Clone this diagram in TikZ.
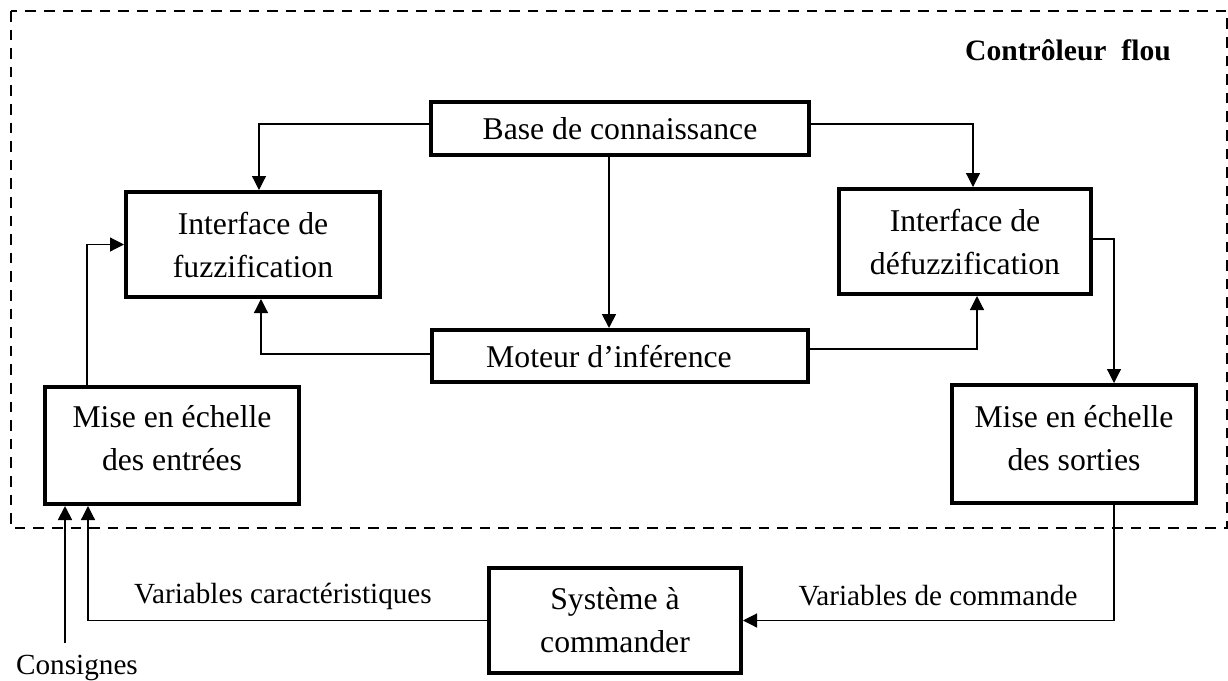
\documentclass[tikz,border=0pt]{standalone}
\usepackage{fontspec}
\setmainfont{Liberation Serif}
\usetikzlibrary{arrows.meta,calc}
\begin{document}
\begin{tikzpicture}[x=0.5pt,y=-0.5pt,
  box/.style={draw,line width=2pt,align=center,inner sep=0pt,font=\fontsize{15.85}{21.5}\selectfont},
  boxtext/.style={align=center,inner sep=0pt,font=\fontsize{15.85}{21.5}\selectfont},
  conn/.style={line width=0.6pt,-{Triangle[length=7pt,width=7pt]}},
  connb/.style={line width=0.9pt,-{Triangle[length=7pt,width=7pt]}},
  lbl/.style={inner sep=0pt,font=\fontsize{14.6}{18}\selectfont}]
\useasboundingbox (0,0) rectangle (1228,681);
\draw[line width=1.2pt,dash pattern=on 5.3pt off 4pt] (11,11) rectangle (1227,528);
\node[inner sep=0pt,font=\bfseries\fontsize{14.8}{18}\selectfont] (title) at (1068,50) {Contrôleur\ \ flou};

\node[box,minimum width=189pt,minimum height=26.5pt] (base) at (620,128.5) {Base de connaissance};
\node[box,minimum width=127pt,minimum height=52.5pt] (fuzz) at (253,244.5) {Interface de\\fuzzification};
\node[box,minimum width=126pt,minimum height=52.5pt] (defuzz) at (965,241.5) {Interface de\\défuzzification};
\node[box,minimum width=188pt,minimum height=26pt] (moteur) at (620,356) {\hspace*{-11pt}Moteur d’inférence};
\node[box,minimum width=127pt,minimum height=58.5pt] (entrees) at (172,445.5) {};
\node[boxtext] (entreesT) at (172,438.5) {Mise en échelle\\des entrées};
\node[box,minimum width=122pt,minimum height=59pt] (sorties) at (1074,444) {};
\node[boxtext] (sortiesT) at (1074,438) {Mise en échelle\\des sorties};
\node[box,minimum width=126pt,minimum height=52.5pt] (systeme) at (615,620.5) {Système à\\commander};

\node[lbl] (vc) at (283,596) {Variables caractéristiques};
\node[lbl] (vcom) at (938,596) {Variables de commande};
\node[lbl] (cons) at (77,668) {Consignes};
\coordinate (cs) at (65,643);

\draw[conn] ($(base.west)+(0,-4.5)$) -| ($(fuzz.north)+(6,0)$);
\draw[conn] ($(base.east)+(0,-4.5)$) -| ($(defuzz.north)+(8,0)$);
\draw[connb] ($(base.south)+(-11,0)$) -- ($(moteur.north)+(-11,0)$);
\draw[conn] ($(moteur.west)+(0,-2)$) -| ($(fuzz.south)+(8,0)$);
\draw[conn] ($(moteur.east)+(0,-7)$) -| ($(defuzz.south)+(12,0)$);
\draw[conn] ($(defuzz.east)+(0,-2.5)$) -| ($(sorties.north)+(40,0)$);
\draw[conn] ($(sorties.south)+(40,0)$) |- (systeme.east);
\draw[conn] (systeme.west) -| ($(entrees.south)+(-84,0)$);
\draw[conn] ($(entrees.north)+(-85,0)$) |- (fuzz.west);
\draw[connb] (cs) -- (cs |- entrees.south);
\end{tikzpicture}
\end{document}
